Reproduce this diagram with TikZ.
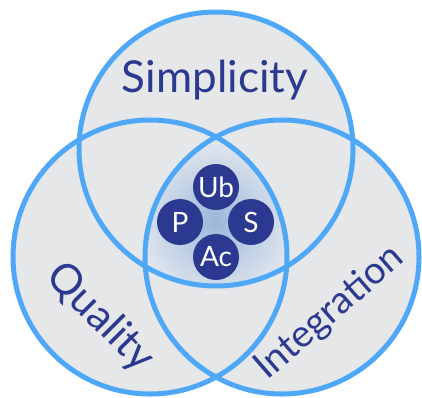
\documentclass[tikz,border=0pt]{standalone}
\usepackage{fontspec}
\setmainfont{Lato}
\usetikzlibrary{positioning}

\definecolor{setfill}{HTML}{E6E7E9}
\definecolor{setline}{HTML}{4FA8F7}
\definecolor{navy}{HTML}{2B3990}
\definecolor{coreinner}{HTML}{9BB7DA}
\definecolor{coreouter}{HTML}{DFE5EE}

\tikzset{
	bigset/.style={circle, minimum size=274pt, inner sep=0pt},
	setlabel/.style={text=navy, font=\fontsize{44}{50}\selectfont},
	dot/.style={circle, fill=navy, minimum size=46pt, inner sep=0pt, text=white, font=\fontsize{28}{32}\selectfont}
}

\begin{document}
\begin{tikzpicture}[x=1pt,y=-1pt]
		\useasboundingbox (0,0) rectangle (422,397);
		% the three sets
		\node[bigset, fill=setfill] (simp) at (216,149) {};
		\node[bigset, fill=setfill] (qual) at (150,257) {};
		\node[bigset, fill=setfill] (integ) at (282,257) {};
		% shaded core where all three meet
		\begin{scope}
			\clip (simp.center) circle[radius=137pt];
			\clip (qual.center) circle[radius=137pt];
			\clip (integ.center) circle[radius=137pt];
			\shade[inner color=coreinner, outer color=coreouter] (216,222) circle[radius=78pt];
		\end{scope}
		\foreach \s in {simp,qual,integ}
			\draw[setline, line width=5pt] (\s.center) circle[radius=137pt];
		% labels
		\node[setlabel, anchor=base] (simp-l) at (215,92) {Simplicity};
		\node[setlabel, rotate=-45, font=\fontsize{42}{48}\selectfont] (qual-l) at (100,318) {Quality};
		\node[setlabel, rotate=41, font=\fontsize{38}{44}\selectfont] (integ-l) at (330,313) {Integration};
		% core
		\node[dot] (ub) at (216,187) {Ub};
		\node[dot] (p) at (180,222) {P};
		\node[dot] (s) at (251,222) {S};
		\node[dot] (ac) at (216,257) {Ac};
	\end{tikzpicture}
\end{document}
